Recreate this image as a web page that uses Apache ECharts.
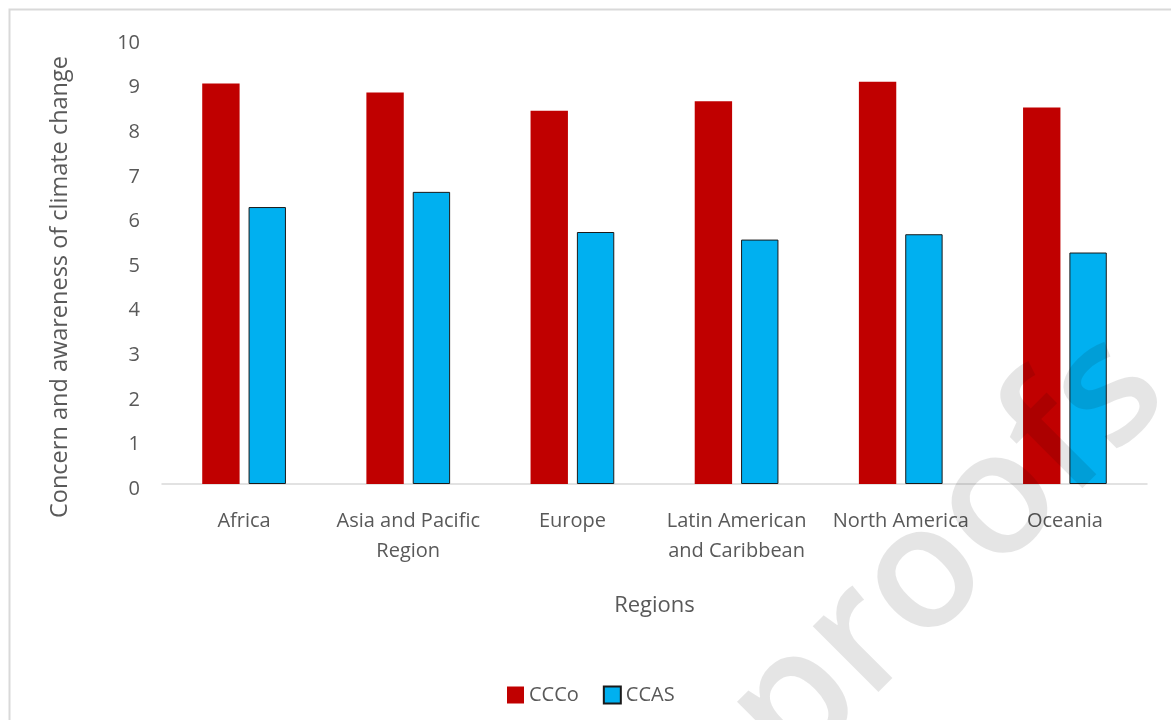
<!DOCTYPE html>
<html>
<head>
<meta charset="utf-8">
<script src="https://cdn.jsdelivr.net/npm/echarts@6/dist/echarts.min.js"></script>
<style>
html,body{margin:0;padding:0;background:#fff;}
#chart{width:1171px;height:720px;}
</style>
</head>
<body>
<div id="chart"></div>
<script>
var categories = ['Africa', 'Asia and Pacific\nRegion', 'Europe', 'Latin American\nand Caribbean', 'North America', 'Oceania'];
var seriesNames = ['CCCo', 'CCAS'];
var cccoValues = [8.98, 8.78, 8.37, 8.58, 9.02, 8.44];
var ccasValues = [6.21, 6.55, 5.65, 5.48, 5.60, 5.19];
var yTicks = [0, 1, 2, 3, 4, 5, 6, 7, 8, 9, 10];
var yTitle = 'Concern and awareness of climate change';
var xTitle = 'Regions';
var watermark = 'proofs';

var FONT = '"Open Sans", "Noto Sans", sans-serif';
var TXT = '#595959';

var chart = echarts.init(document.getElementById('chart'));
chart.setOption({
  animation: false,
  backgroundColor: '#ffffff',
  textStyle: { fontFamily: FONT },
  grid: { left: 162, right: 24, top: 38, bottom: 236, containLabel: false },
  legend: {
    data: seriesNames,
    left: 502,
    top: 680,
    itemWidth: 17,
    itemHeight: 17,
    itemGap: 24,
    icon: 'rect',
    textStyle: { color: TXT, fontSize: 20, fontFamily: FONT }
  },
  xAxis: {
    type: 'category',
    data: categories,
    name: xTitle,
    nameLocation: 'middle',
    nameGap: 111,
    nameTextStyle: { color: TXT, fontSize: 22, fontFamily: FONT },
    axisLine: { show: true, lineStyle: { color: '#d9d9d9', width: 1.5 } },
    axisTick: { show: false },
    axisLabel: { color: TXT, fontSize: 20, lineHeight: 30, margin: 22, interval: 0, fontFamily: FONT }
  },
  yAxis: {
    type: 'value',
    min: yTicks[0],
    max: yTicks[yTicks.length - 1],
    interval: 1,
    name: yTitle,
    nameLocation: 'middle',
    nameGap: 90,
    nameRotate: 90,
    nameTextStyle: { color: TXT, fontSize: 23.5, fontFamily: FONT, padding: [0, 52, 0, 0] },
    axisLine: { show: false },
    axisTick: { show: false },
    splitLine: { show: false },
    axisLabel: {
      color: TXT, fontSize: 20, margin: 22, fontFamily: FONT,
      formatter: '{a|{value}}',
      rich: { a: { color: TXT, fontSize: 20, fontFamily: FONT, padding: [10, 0, 0, 0] } }
    }
  },
  series: [
    {
      name: seriesNames[0],
      type: 'bar',
      data: cccoValues,
      barCategoryGap: '49%',
      barGap: '24%',
      itemStyle: { color: '#c00000' }
    },
    {
      name: seriesNames[1],
      type: 'bar',
      data: ccasValues,
      barCategoryGap: '49%',
      barGap: '24%',
      itemStyle: { color: '#00b0f0', borderColor: '#1a1a1a', borderWidth: 1 }
    }
  ],
  graphic: [
    {
      type: 'rect',
      left: 7, top: 7, z: -10, silent: true,
      shape: { width: 1250, height: 800 },
      style: { fill: 'none', stroke: '#d9d9d9', lineWidth: 2 }
    },
    {
      type: 'text',
      x: 948, y: 553,
      rotation: Math.PI / 4,
      z: 100, silent: true,
      style: {
        text: watermark,
        fontSize: 172,
        fontWeight: 600,
        fontFamily: FONT,
        fill: 'rgba(0,0,0,0.1)',
        align: 'center',
        verticalAlign: 'middle'
      }
    }
  ]
});
</script>
</body>
</html>
